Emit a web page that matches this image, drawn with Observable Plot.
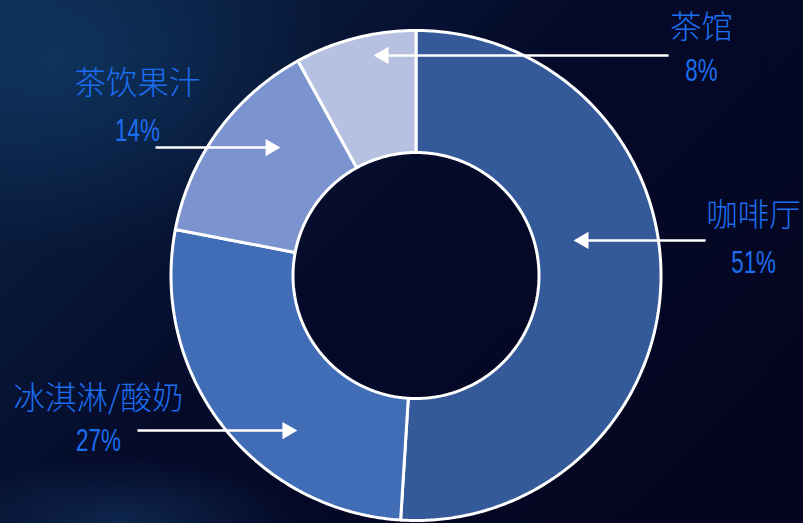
<!DOCTYPE html>
<html>
<head>
<meta charset="utf-8">
<script src="https://cdn.jsdelivr.net/npm/d3@7"></script>
<script src="https://cdn.jsdelivr.net/npm/@observablehq/plot@0.6"></script>
<style>
  html, body { margin: 0; padding: 0; width: 803px; height: 523px; overflow: hidden; }
  body {
    background:
      radial-gradient(ellipse 260px 90px at 120px 520px, rgba(30,90,140,0.35), rgba(0,0,0,0) 70%),
      radial-gradient(ellipse 380px 260px at 60px 60px, rgba(20,70,120,0.5), rgba(0,0,0,0) 75%),
      linear-gradient(135deg, #0b2446 0%, #081838 22%, #050a2a 45%, #04051e 100%);
  }
  #chart svg { display: block; background: transparent; }
</style>
</head>
<body>
<div id="chart"></div>
<script>
// ---- data ----
const categories = ["咖啡厅", "冰淇淋/酸奶", "茶饮果汁", "茶馆"];
const shares = [51, 27, 14, 8];
const percentLabels = ["51%", "27%", "14%", "8%"];

// ---- style ----
const sliceColors = ["#345a9a", "#416cb6", "#7b93ce", "#b6c0e0"];
const textColor = "#1b6ef0";

// ---- layout (unit coordinates: donut centre = 0,0, outer radius = 1) ----
const W = 803, H = 523, R = 245, CX = 415.5, CY = 275;
const innerR = 0.502;
const labelPos = {
  "咖啡厅":     {x: 1.378, y: 0.245, py: 0.053, ax0: 1.182, ax1: 0.643, ay: 0.143},
  "冰淇淋/酸奶": {x: -1.296, y: -0.502, py: -0.673, ax0: -1.137, ax1: -0.484, ay: -0.633},
  "茶饮果汁":   {x: -1.137, y: 0.783, py: 0.592, ax0: -1.063, ax1: -0.553, ay: 0.522},
  "茶馆":       {x: 1.165, y: 1.012, py: 0.837, ax0: 1.031, ax1: -0.173, ay: 0.898}
};

// ---- build slice polygons ----
const total = d3.sum(shares);
const slicePts = [];
let acc = 0;
categories.forEach((c, i) => {
  const a0 = acc / total * 2 * Math.PI;
  acc += shares[i];
  const a1 = acc / total * 2 * Math.PI;
  const n = Math.max(8, Math.ceil((a1 - a0) / 0.01));
  const pts = [];
  for (let k = 0; k <= n; k++) {
    const a = a0 + (a1 - a0) * k / n;
    pts.push({category: c, x: Math.sin(a), y: Math.cos(a)});
  }
  for (let k = n; k >= 0; k--) {
    const a = a0 + (a1 - a0) * k / n;
    pts.push({category: c, x: innerR * Math.sin(a), y: innerR * Math.cos(a)});
  }
  pts.push({...pts[0]});
  slicePts.push(...pts);
});

const labels = categories.map((c, i) => ({category: c, pct: percentLabels[i], ...labelPos[c]}));
const headOffset = 10 / R;
const arrowLines = labels.map(d => ({category: d.category, x1: d.ax0, x2: d.ax1 - Math.sign(d.ax1 - d.ax0) * headOffset, y: d.ay}));
const arrowHeads = labels.map(d => ({category: d.category, x: d.ax1 - Math.sign(d.ax1 - d.ax0) * headOffset, y: d.ay, rot: d.ax1 > d.ax0 ? 90 : -90}));

const chart = Plot.plot({
  width: W,
  height: H,
  margin: 0,
  style: {background: "transparent", overflow: "visible"},
  x: {domain: [-CX / R, (W - CX) / R], axis: null},
  y: {domain: [-(H - CY) / R, CY / R], axis: null},
  color: {domain: categories, range: sliceColors},
  marks: [
    Plot.line(slicePts, {x: "x", y: "y", z: "category", fill: "category", stroke: "white", strokeWidth: 3, strokeLinejoin: "miter", curve: "linear"}),
    Plot.link(arrowLines, {x1: "x1", x2: "x2", y1: "y", y2: "y", stroke: "white", strokeWidth: 2.5}),
    Plot.dot(arrowHeads, {x: "x", y: "y", symbol: "triangle", r: 6.4, rotate: "rot", fill: "white", stroke: "none"}),
    Plot.text(labels, {x: "x", y: "y", text: "category", fill: textColor, fontSize: 31.5, fontWeight: 300, fontFamily: "'Noto Sans CJK SC', sans-serif", textAnchor: "middle", lineAnchor: "middle"}),
    Plot.text(labels, {x: "x", y: "py", text: "pct", fill: textColor, fontSize: 32, fontFamily: "'Liberation Sans', Arial, sans-serif", textAnchor: "middle", lineAnchor: "middle"})
  ]
});
// condense the percentage labels horizontally (narrow-font look)
chart.querySelectorAll("text").forEach(el => {
  if (!/%$/.test(el.textContent.trim())) return;
  const t = el.getAttribute("transform");
  if (t) el.setAttribute("transform", t + " scale(0.7,1)");
});
document.getElementById("chart").appendChild(chart);
</script>
</body>
</html>
